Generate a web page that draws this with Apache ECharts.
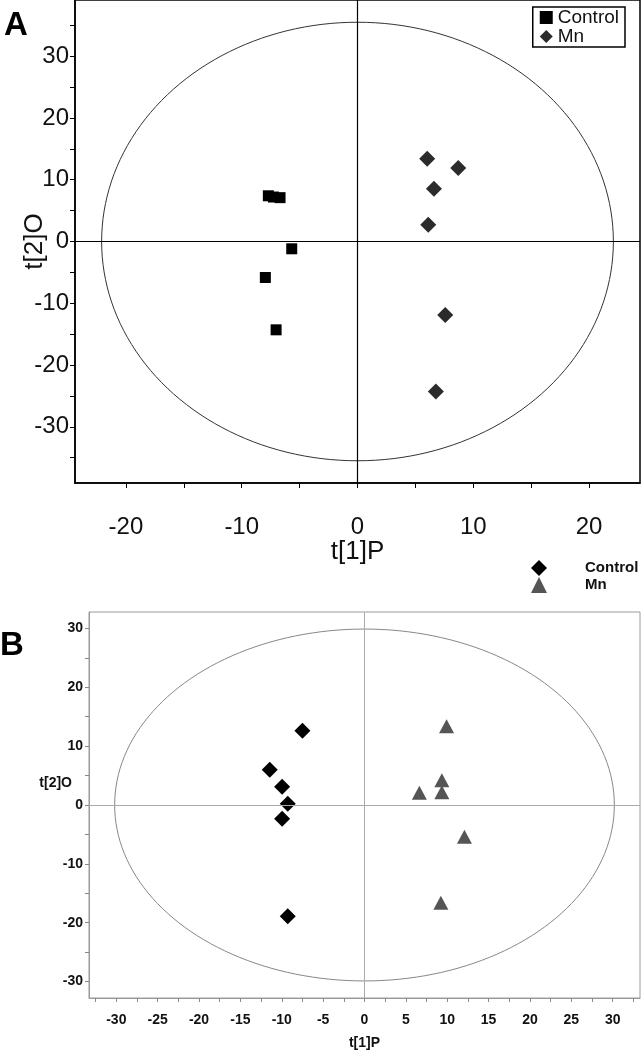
<!DOCTYPE html>
<html><head><meta charset="utf-8">
<script src="https://cdn.jsdelivr.net/npm/echarts@6/dist/echarts.min.js"></script>
<style>html,body{margin:0;padding:0;background:#fff}#c{width:641px;height:1050px}</style>
</head><body><div id="c"></div>
<script>
// ---------- Panel A data ----------
const groupNames = ['Control', 'Mn'];
const controlA_x = [-7.70, -7.26, -6.69, -5.68, -7.96, -7.03];
const controlA_y = [7.4, 7.2, 7.1, -1.18, -5.83, -14.3];
const mnA_x = [6.02, 8.70, 6.60, 6.11, 7.58, 6.77];
const mnA_y = [13.4, 11.9, 8.54, 2.71, -11.9, -24.3];
const ellipseA = [22.1, 35.5];           // semi-axes (t[1]P, t[2]O)
const xRangeA = [-24.4, 24.4];
const yRangeA = [-39.1, 39.1];
const xTicksA = [-20, -15, -10, -5, 0, 5, 10, 15, 20];
const xLabelsA = [-20, -10, 0, 10, 20];
const yTicksA = [-35, -30, -25, -20, -15, -10, -5, 0, 5, 10, 15, 20, 25, 30, 35];
const yLabelsA = [-30, -20, -10, 0, 10, 20, 30];

// ---------- Panel B data ----------
const controlB_x = [-7.5, -11.45, -9.96, -9.28, -9.96, -9.28];
const controlB_y = [12.6, 5.98, 3.1, 0.22, -2.32, -18.9];
const mnB_x = [9.92, 9.35, 9.35, 6.63, 12.08, 9.23];
const mnB_y = [13.4, 4.2, 2.17, 2.08, -5.4, -16.6];
const ellipseB = [30.2, 29.9];
const xRangeB = [-33.3, 33.3];
const yRangeB = [-32.8, 32.8];
const xTicksB = [-32.5, -30, -27.5, -25, -22.5, -20, -17.5, -15, -12.5, -10, -7.5, -5, -2.5, 0, 2.5, 5, 7.5, 10, 12.5, 15, 17.5, 20, 22.5, 25, 27.5, 30, 32.5];
const xLabelsB = [-30, -25, -20, -15, -10, -5, 0, 5, 10, 15, 20, 25, 30];
const yTicksB = [-30, -25, -20, -15, -10, -5, 0, 5, 10, 15, 20, 25, 30];
const yLabelsB = [-30, -20, -10, 0, 10, 20, 30];

function zip(xs, ys) { return xs.map((x, i) => [x, ys[i]]); }
function ellipsePts(r) {
  const pts = [];
  for (let i = 0; i <= 360; i += 2) {
    const a = i * Math.PI / 180;
    pts.push([r[0] * Math.cos(a), r[1] * Math.sin(a)]);
  }
  return pts;
}

const FONT = '"Liberation Sans", Arial, Helvetica, sans-serif';
const chart = echarts.init(document.getElementById('c'), null, { renderer: 'canvas' });

function axisBase(o) {
  return Object.assign({
    type: 'value',
    splitLine: { show: false },
    nameMoveOverlap: false,
    axisLine: { show: true, onZero: false },
    axisTick: { show: true, inside: false, length: 4 },
    nameTextStyle: { fontFamily: FONT }
  }, o);
}

const option = {
  animation: false,
  backgroundColor: '#fff',
  textStyle: { fontFamily: FONT },
  grid: [
    { left: 75, right: 1, top: 0, height: 483, show: true, borderColor: '#000', borderWidth: 1.5, containLabel: false, outerBoundsMode: 'none' },
    { left: 89, right: 1, top: 612, height: 386, show: true, borderColor: '#9a9a9a', borderWidth: 1, containLabel: false, outerBoundsMode: 'none' }
  ],
  xAxis: [
    axisBase({
      gridIndex: 0, min: xRangeA[0], max: xRangeA[1],
      name: 't[1]P', nameLocation: 'middle', nameGap: 56,
      nameTextStyle: { fontFamily: FONT, fontSize: 26, color: '#111' },
      axisLine: { show: true, onZero: false, lineStyle: { color: '#000', width: 1.5 } },
      axisTick: { show: true, length: 5, lineStyle: { color: '#000', width: 1 }, customValues: xTicksA },
      axisLabel: { customValues: xLabelsA, fontSize: 24, color: '#111', margin: 32, fontFamily: FONT }
    }),
    axisBase({
      gridIndex: 1, min: xRangeB[0], max: xRangeB[1],
      name: 't[1]P', nameLocation: 'middle', nameGap: 38,
      nameTextStyle: { fontFamily: FONT, fontSize: 14, fontWeight: 'bold', color: '#111' },
      axisLine: { show: true, onZero: false, lineStyle: { color: '#9a9a9a', width: 1 } },
      axisTick: { show: true, length: 4, lineStyle: { color: '#888', width: 1 }, customValues: xTicksB },
      axisLabel: { customValues: xLabelsB, fontSize: 14, fontWeight: 'bold', color: '#111', margin: 15, fontFamily: FONT }
    })
  ],
  yAxis: [
    axisBase({
      gridIndex: 0, min: yRangeA[0], max: yRangeA[1],
      name: 't[2]O', nameLocation: 'middle', nameGap: 27, nameRotate: 90,
      nameTextStyle: { fontFamily: FONT, fontSize: 26, color: '#111' },
      axisLine: { show: true, onZero: false, lineStyle: { color: '#000', width: 1.5 } },
      axisTick: { show: true, length: 5, lineStyle: { color: '#000', width: 1 }, customValues: yTicksA },
      axisLabel: { customValues: yLabelsA, fontSize: 24, color: '#111', margin: 6, fontFamily: FONT }
    }),
    axisBase({
      gridIndex: 1, min: yRangeB[0], max: yRangeB[1],
      name: 't[2]O\n \n ', nameLocation: 'middle', nameGap: 17, nameRotate: 0,
      nameTextStyle: { fontFamily: FONT, fontSize: 14, fontWeight: 'bold', color: '#111', lineHeight: 22, align: 'right', verticalAlign: 'middle' },
      axisLine: { show: true, onZero: false, lineStyle: { color: '#9a9a9a', width: 1 } },
      axisTick: { show: true, length: 4, lineStyle: { color: '#888', width: 1 }, customValues: yTicksB },
      axisLabel: { customValues: yLabelsB, fontSize: 14, fontWeight: 'bold', color: '#111', margin: 6, fontFamily: FONT }
    })
  ],
  legend: [
    {
      orient: 'vertical', right: 16, top: 7,
      itemWidth: 13, itemHeight: 13, itemGap: 0, padding: [1, 6, 1, 7],
      borderColor: '#000', borderWidth: 1.5, backgroundColor: '#fff',
      selectedMode: false,
      textStyle: { fontSize: 19, color: '#111', fontFamily: FONT },
      data: [
        { name: groupNames[0], icon: 'rect', itemStyle: { color: '#000' } },
        { name: groupNames[1], icon: 'diamond', itemStyle: { color: '#2b2b2b' } }
      ]
    },
    {
      orient: 'vertical', left: 531, top: 560,
      itemWidth: 16, itemHeight: 16, itemGap: 1, padding: 0,
      selectedMode: false,
      textStyle: { fontSize: 15, fontWeight: 'bold', color: '#111', fontFamily: FONT, padding: [0, 0, 0, 33] },
      data: [
        { name: groupNames[0], icon: 'diamond', itemStyle: { color: '#000' } },
        { name: groupNames[1], icon: 'triangle', itemStyle: { color: '#555' } }
      ]
    }
  ],
  graphic: [
    { type: 'text', left: 4, top: 9, style: { text: 'A', font: 'bold 33px ' + FONT, fill: '#000' } },
    { type: 'text', left: 0, top: 629, style: { text: 'B', font: 'bold 33px ' + FONT, fill: '#000' } }
  ],
  series: [
    // Panel A
    {
      type: 'line', xAxisIndex: 0, yAxisIndex: 0, data: ellipsePts(ellipseA),
      showSymbol: false, silent: true, smooth: false, z: 1,
      lineStyle: { color: '#333', width: 1 },
      markLine: {
        silent: true, symbol: 'none', label: { show: false },
        lineStyle: { color: '#000', width: 1.2, type: 'solid' },
        data: [{ xAxis: 0 }, { yAxis: 0 }]
      }
    },
    {
      name: groupNames[0], type: 'scatter', xAxisIndex: 0, yAxisIndex: 0,
      symbol: 'rect', symbolSize: 11, data: zip(controlA_x, controlA_y),
      itemStyle: { color: '#000', opacity: 1 }, z: 3
    },
    {
      name: groupNames[1], type: 'scatter', xAxisIndex: 0, yAxisIndex: 0,
      symbol: 'diamond', symbolSize: 16, data: zip(mnA_x, mnA_y),
      itemStyle: { color: '#2b2b2b', opacity: 1 }, z: 3
    },
    // Panel B
    {
      type: 'line', xAxisIndex: 1, yAxisIndex: 1, data: ellipsePts(ellipseB),
      showSymbol: false, silent: true, smooth: false, z: 1,
      lineStyle: { color: '#888', width: 1 },
      markLine: {
        silent: true, symbol: 'none', label: { show: false },
        lineStyle: { color: '#aaa', width: 1, type: 'solid' },
        data: [{ xAxis: 0 }, { yAxis: 0 }]
      }
    },
    {
      name: groupNames[0], type: 'scatter', xAxisIndex: 1, yAxisIndex: 1,
      symbol: 'diamond', symbolSize: 16, data: zip(controlB_x, controlB_y),
      itemStyle: { color: '#000', opacity: 1 }, z: 3
    },
    {
      name: groupNames[1], type: 'scatter', xAxisIndex: 1, yAxisIndex: 1,
      symbol: 'triangle', symbolSize: [15, 14], data: zip(mnB_x, mnB_y),
      itemStyle: { color: '#555', opacity: 1 }, z: 3
    }
  ]
};
chart.setOption(option);
</script>
</body></html>
